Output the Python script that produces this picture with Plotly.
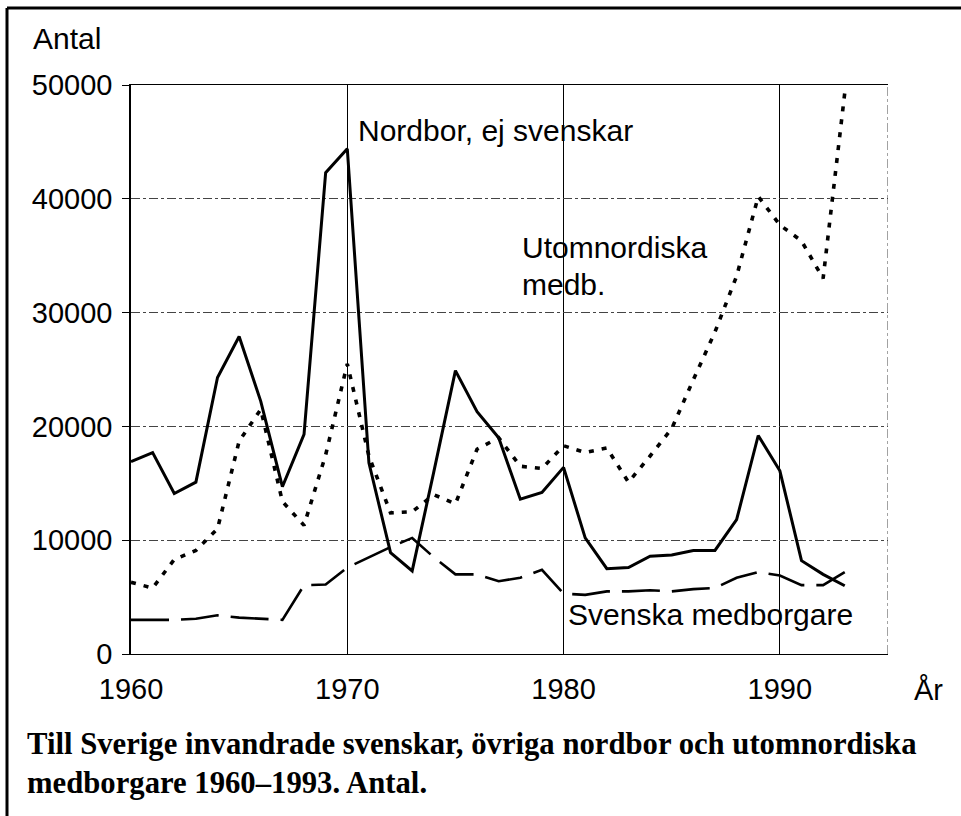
import plotly.graph_objects as go

years = list(range(1960, 1994))

nordbor = [16900, 17700, 14100, 15100, 24300, 27900, 22200, 14700, 19300, 42300,
           44400, 16800, 8900, 7300, 16000, 24900, 21300, 19000, 13600, 14200,
           16400, 10200, 7500, 7600, 8600, 8700, 9100, 9100, 11800, 19200,
           16100, 8200, 7000, 6000]

utomnordiska = [6300, 5800, 8300, 9100, 11000, 18700, 21500, 13400, 11300, 17500,
                25500, 17400, 12400, 12500, 14000, 13200, 18000, 19000, 16500, 16300,
                18300, 17700, 18100, 15100, 17400, 19800, 24100, 28300, 33200, 40200,
                37700, 36300, 33000, 49300]

svenska = [3000, 3000, 3000, 3100, 3400, 3200, 3100, 3000, 6050, 6100,
           7600, 8500, 9400, 10200, 8500, 7000, 7000, 6400, 6700, 7400,
           5300, 5200, 5500, 5500, 5600, 5500, 5700, 5800, 6700, 7200,
           6900, 6050, 6050, 7200]

x_ticks = [1960, 1970, 1980, 1990]
y_ticks = [0, 10000, 20000, 30000, 40000, 50000]

SANS = "Liberation Sans, Arial, Helvetica, sans-serif"
SERIF = "Liberation Serif, Times New Roman, serif"

fig = go.Figure()
fig.add_trace(go.Scatter(x=years, y=svenska, mode="lines",
                         line=dict(color="black", width=2.6, dash="38px,12px"),
                         name="Svenska medborgare"))
fig.add_trace(go.Scatter(x=years, y=utomnordiska, mode="lines",
                         line=dict(color="black", width=3.6, dash="5px,8px"),
                         name="Utomnordiska medb."))
fig.add_trace(go.Scatter(x=years, y=nordbor, mode="lines",
                         line=dict(color="black", width=3),
                         name="Nordbor, ej svenskar"))

fig.update_layout(
    width=961, height=816,
    margin=dict(l=131, r=73, t=85, b=162, pad=0),
    paper_bgcolor="white", plot_bgcolor="white",
    showlegend=False,
    font=dict(family=SANS, size=29, color="black"),
    xaxis=dict(range=[1960, 1995], tickvals=x_ticks, ticktext=[str(v) for v in x_ticks],
               showgrid=True, gridcolor="black", gridwidth=1,
               showline=True, linecolor="black", linewidth=1.2, mirror=True,
               ticks="", ticklabelstandoff=9, zeroline=False,
               tickfont=dict(family=SANS, size=29, color="black")),
    yaxis=dict(range=[0, 50000], tickvals=y_ticks, ticktext=[str(v) for v in y_ticks],
               showgrid=True, gridcolor="#444", gridwidth=1, griddash="dashdot",
               showline=True, linecolor="black", linewidth=1.5,
               ticks="outside", ticklen=7, tickcolor="black", tickwidth=1,
               ticklabelstandoff=4, zeroline=False,
               tickfont=dict(family=SANS, size=29, color="black")),
)

# right border of plot area (dash-dot)
fig.add_shape(type="line", xref="x", yref="paper", x0=1995, x1=1995, y0=0, y1=1,
              line=dict(color="#444", width=1, dash="dashdot"))

# outer frame (left and top edges)
fig.add_shape(type="line", xref="paper", yref="paper",
              x0=(7 - 131) / 757, x1=(7 - 131) / 757, y0=(654 - 820) / 569, y1=(654 - 8) / 569,
              line=dict(color="black", width=3))
fig.add_shape(type="line", xref="paper", yref="paper",
              x0=(7 - 131) / 757, x1=(965 - 131) / 757, y0=(654 - 8) / 569, y1=(654 - 8) / 569,
              line=dict(color="black", width=3))

def ann(text, x, y, xref="x", yref="y", size=30, family=SANS, bold=False, xanchor="left", yanchor="middle"):
    if bold:
        text = "<b>" + text + "</b>"
    fig.add_annotation(text=text, x=x, y=y, xref=xref, yref=yref, showarrow=False,
                       xanchor=xanchor, yanchor=yanchor,
                       font=dict(family=family, size=size, color="black"))

def py(p):
    return (654 - p) / 569

def px(p):
    return (p - 131) / 757

ann("Antal", px(31), py(38), xref="paper", yref="paper", size=30)
ann("År", px(912), py(690), xref="paper", yref="paper", size=29)
ann("Nordbor, ej svenskar", 1970.4, 46000, size=30)
ann("Utomnordiska", 1978.0, 35700, size=30)
ann("medb.", 1978.0, 32500, size=30)
ann("Svenska medborgare", 1980.1, 3500, size=30)

ann("Till Sverige invandrade svenskar, övriga nordbor och utomnordiska",
    px(25), py(744), xref="paper", yref="paper", size=30.7, family=SERIF, bold=True)
ann("medborgare 1960–1993. Antal.",
    px(25), py(783), xref="paper", yref="paper", size=30.7, family=SERIF, bold=True)

fig.write_html("out.html", config={"displayModeBar": False},
               post_script="document.body.style.margin='0';")
